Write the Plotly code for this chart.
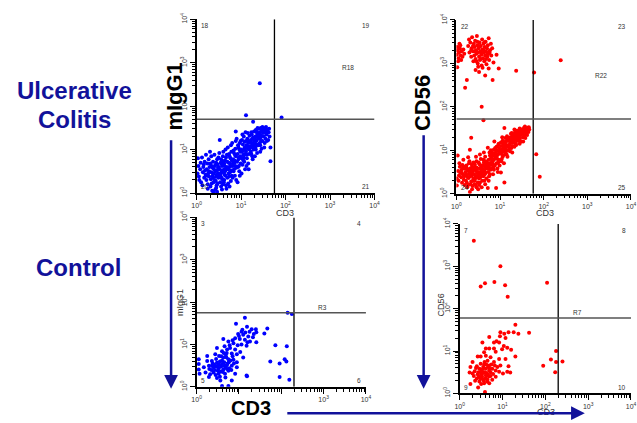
import numpy as np
import plotly.graph_objects as go

# ---------------- data (log10 units: decades of fluorescence) ----------------
uc_migg1 = [
    (0.02,0.45),(0.04,0.62),(0.06,0.30),(0.03,0.80),(0.08,0.55),(0.09,0.70),(0.05,0.38),(0.12,0.82),(0.10,0.25),
    (0.14,0.48),(0.15,0.60),(0.17,0.35),(0.18,0.72),(0.13,0.18),(0.19,0.52),(0.16,0.66),(0.20,0.42),
    (0.22,0.30),(0.23,0.55),(0.24,0.68),(0.25,0.20),(0.26,0.45),(0.27,0.78),(0.28,0.38),(0.29,0.60),(0.21,0.88),(0.25,0.10),(0.28,0.50),(0.23,0.40),
    (0.31,0.15),(0.32,0.32),(0.33,0.48),(0.34,0.62),(0.35,0.05),(0.36,0.40),(0.37,0.72),(0.38,0.25),(0.39,0.55),(0.30,0.95),(0.33,0.85),(0.36,0.58),(0.38,0.45),(0.31,0.68),(0.34,0.22),(0.37,0.36),(0.38,0.01),
    (0.41,0.30),(0.42,0.50),(0.43,0.65),(0.44,0.12),(0.45,0.42),(0.46,0.78),(0.47,0.22),(0.48,0.58),(0.49,0.35),(0.40,0.88),(0.42,0.08),(0.44,0.70),(0.46,0.52),(0.48,0.45),(0.41,0.62),(0.43,0.28),(0.45,0.18),(0.47,0.66),(0.49,0.82),(0.44,0.38),(0.46,0.03),
    (0.51,0.40),(0.52,0.55),(0.53,0.25),(0.54,0.70),(0.55,0.15),(0.56,0.48),(0.57,0.62),(0.58,0.32),(0.59,0.85),(0.50,0.60),(0.52,1.22),(0.53,0.45),(0.55,0.78),(0.56,0.35),(0.57,0.08),(0.58,0.52),(0.59,0.20),(0.51,0.92),(0.54,0.42),(0.56,0.68),(0.58,0.74),
    (0.61,0.48),(0.62,0.30),(0.63,0.62),(0.64,0.75),(0.65,0.40),(0.66,0.18),(0.67,0.55),(0.68,0.88),(0.69,0.35),(0.60,0.95),(0.62,0.68),(0.64,0.50),(0.66,0.82),(0.68,0.60),(0.61,0.25),(0.63,0.42),(0.65,1.00),(0.67,0.10),(0.69,0.72),(0.62,0.55),
    (0.71,0.55),(0.72,0.70),(0.73,0.38),(0.74,0.85),(0.75,0.48),(0.76,0.62),(0.77,0.28),(0.78,0.95),(0.79,0.75),(0.70,1.05),(0.72,0.45),(0.74,0.60),(0.76,0.80),(0.78,0.52),(0.71,0.22),(0.73,0.90),(0.75,0.68),(0.77,1.10),(0.79,0.40),(0.74,0.15),
    (0.81,0.62),(0.82,0.78),(0.83,0.50),(0.84,0.92),(0.85,0.70),(0.86,0.40),(0.87,1.02),(0.88,0.85),(0.89,0.58),(0.80,1.15),(0.82,0.68),(0.84,0.55),(0.86,0.88),(0.88,1.20),(0.81,0.35),(0.83,0.98),(0.85,0.75),(0.87,0.62),(0.88,1.42),(0.89,0.30),
    (0.91,0.72),(0.92,0.90),(0.93,0.60),(0.94,1.05),(0.95,0.82),(0.96,0.50),(0.97,1.15),(0.98,0.95),(0.99,0.68),(0.90,1.25),(0.92,0.25),(0.94,0.78),(0.96,1.00),(0.98,0.85),(0.93,1.10),(0.95,0.62),(0.97,0.40),(0.99,1.20),
    (1.01,0.80),(1.02,0.95),(1.03,0.65),(1.04,1.12),(1.05,0.88),(1.06,1.30),(1.07,0.72),(1.08,1.05),(1.09,0.55),(1.00,1.00),(1.02,1.22),(1.04,0.98),(1.06,0.82),(1.08,1.18),(1.01,0.45),(1.03,1.35),(1.05,0.75),(1.07,1.00),(1.09,0.90),
    (1.11,0.95),(1.12,1.10),(1.13,0.80),(1.14,1.25),(1.15,1.02),(1.16,0.68),(1.17,1.18),(1.18,0.90),(1.19,1.32),(1.10,1.40),(1.12,0.62),(1.14,1.05),(1.16,1.15),(1.18,1.00),(1.11,1.20),(1.13,0.88),(1.15,1.38),(1.17,0.55),(1.19,1.08),
    (1.21,1.05),(1.22,1.22),(1.23,0.90),(1.24,1.35),(1.25,1.12),(1.26,0.78),(1.27,1.28),(1.28,1.00),(1.29,1.42),(1.20,1.18),(1.22,0.95),(1.24,1.15),(1.26,1.25),(1.28,1.10),(1.23,1.40),(1.25,0.85),(1.27,1.05),(1.29,1.20),
    (1.31,1.15),(1.32,1.30),(1.33,1.00),(1.34,1.42),(1.35,1.22),(1.36,0.92),(1.37,1.35),(1.38,1.10),(1.39,1.48),(1.30,1.25),(1.32,1.05),(1.34,1.20),(1.36,1.38),(1.38,1.28),(1.31,0.85),(1.33,1.45),(1.35,1.12),(1.37,1.50),
    (1.41,1.25),(1.42,1.40),(1.43,1.10),(1.44,1.50),(1.45,1.32),(1.46,1.02),(1.47,1.45),(1.48,1.20),(1.49,1.38),(1.40,1.35),(1.42,1.15),(1.44,1.28),(1.46,1.42),(1.48,1.52),(1.43,0.95),(1.45,1.20),
    (1.51,1.30),(1.52,1.45),(1.53,1.15),(1.54,1.40),(1.55,1.25),(1.56,1.52),(1.57,1.35),(1.58,1.20),(1.59,1.45),(1.50,1.50),(1.52,1.05),(1.55,1.48),(1.58,1.38),
    (1.62,1.40),(1.64,1.30),(1.66,1.05),(1.66,0.73),(1.63,1.48),(1.61,1.22),
    (1.42,2.53),(1.11,1.79),(1.91,1.74),(1.27,1.64),
]

uc_cd56 = [
    # CD56+ NK population
    (0.01,3.20),(0.03,3.30),(0.05,3.12),(0.02,3.38),(0.06,3.25),(0.08,3.35),(0.10,3.18),(0.12,3.28),(0.04,3.05),(0.09,3.42),(0.14,3.15),(0.16,3.32),(0.02,2.91),(0.18,3.22),(0.11,3.08),(0.07,3.45),
    (0.27,3.40),(0.29,3.55),(0.30,3.25),(0.32,3.48),(0.34,3.15),(0.35,3.35),(0.36,3.60),(0.38,3.28),(0.39,3.05),(0.40,3.45),(0.41,3.18),(0.42,3.38),(0.43,3.52),(0.44,3.10),(0.45,3.30),(0.46,3.22),(0.47,3.63),(0.48,3.42),(0.49,3.00),(0.50,3.25),
    (0.51,3.35),(0.52,3.15),(0.53,3.48),(0.54,3.08),(0.55,3.28),(0.56,3.40),(0.57,3.20),(0.58,2.95),(0.59,3.55),(0.60,3.32),(0.61,3.12),(0.62,3.45),(0.63,3.25),(0.64,3.05),(0.65,3.38),(0.66,3.18),(0.67,3.50),(0.68,3.28),(0.69,2.98),(0.70,3.35),
    (0.71,3.15),(0.72,3.42),(0.73,3.22),(0.74,3.58),(0.75,3.08),(0.77,3.30),(0.79,3.45),(0.80,3.18),(0.82,3.35),(0.85,3.02),(0.44,2.85),(0.52,2.80),(0.60,2.90),(0.66,2.72),(0.48,3.50),(0.56,3.10),(0.62,3.30),(0.38,3.40),(0.46,3.05),(0.54,3.40),
    (0.70,3.20),(0.58,3.22),(0.50,2.92),(0.42,3.28),(0.64,3.48),(0.68,3.10),(0.34,3.30),(0.76,3.25),(0.92,3.20),(0.74,2.88),
    (0.97,2.88),(1.37,2.83),(1.78,2.79),(2.39,3.07),(0.83,2.62),(0.24,2.62),(0.20,2.44),(0.58,2.00),(0.62,1.69),
    # CD56- population
    (0.01,0.35),(0.01,0.19),(0.03,0.88),(0.04,0.52),(0.06,0.42),(0.08,0.62),(0.05,0.30),(0.09,0.48),(0.07,0.70),
    (0.11,0.38),(0.12,0.55),(0.13,0.25),(0.14,0.66),(0.15,0.45),(0.16,0.78),(0.17,0.32),(0.18,0.58),(0.19,0.20),(0.12,0.48),(0.15,0.60),(0.18,0.40),
    (0.21,0.50),(0.22,0.30),(0.23,0.65),(0.24,0.42),(0.25,0.15),(0.26,0.56),(0.27,0.84),(0.28,0.36),(0.29,0.70),(0.20,0.62),(0.22,0.45),(0.24,0.25),(0.26,0.38),(0.28,0.52),(0.23,0.58),(0.27,0.20),(0.29,0.46),
    (0.31,0.04),(0.31,1.01),(0.32,0.40),(0.33,0.55),(0.34,0.28),(0.35,0.68),(0.36,0.48),(0.37,0.18),(0.38,0.60),(0.39,0.35),(0.30,0.75),(0.32,0.22),(0.33,0.50),(0.35,0.42),(0.36,0.62),(0.38,0.30),(0.34,1.29),(0.37,0.52),(0.39,0.72),(0.31,0.58),(0.36,0.10),
    (0.41,0.45),(0.42,0.30),(0.43,0.62),(0.44,0.20),(0.45,0.52),(0.46,0.75),(0.47,0.38),(0.48,0.58),(0.49,0.26),(0.40,0.55),(0.42,0.68),(0.44,0.40),(0.46,0.15),(0.48,0.48),(0.43,0.35),(0.45,0.85),(0.47,0.60),(0.49,0.42),(0.41,0.22),(0.44,0.55),
    (0.50,0.10),(0.51,0.50),(0.52,0.35),(0.53,0.68),(0.54,0.25),(0.55,0.58),(0.56,0.80),(0.57,0.42),(0.58,0.62),(0.59,0.30),(0.51,0.72),(0.53,0.45),(0.55,0.38),(0.57,0.55),(0.59,0.48),(0.52,0.20),(0.54,0.90),(0.56,0.65),(0.58,0.15),(0.55,0.48),
    (0.61,0.55),(0.62,0.40),(0.63,0.72),(0.64,0.30),(0.65,0.62),(0.66,0.85),(0.67,0.48),(0.68,0.68),(0.69,0.35),(0.60,0.65),(0.62,0.78),(0.64,0.52),(0.66,0.22),(0.68,0.58),(0.63,0.95),(0.65,0.45),(0.67,0.75),(0.69,0.60),
    (0.71,0.62),(0.72,0.13),(0.72,1.06),(0.73,0.50),(0.74,0.78),(0.75,0.40),(0.76,0.70),(0.77,0.88),(0.78,0.55),(0.79,0.66),(0.70,0.72),(0.72,0.58),(0.74,0.30),(0.76,0.95),(0.78,0.80),(0.73,0.68),(0.75,0.60),(0.77,0.45),(0.79,1.00),
    (0.81,0.72),(0.82,0.58),(0.83,0.88),(0.84,0.45),(0.85,0.78),(0.86,1.02),(0.87,1.20),(0.88,0.65),(0.89,0.85),(0.80,0.82),(0.82,0.95),(0.84,0.68),(0.86,0.55),(0.88,0.92),(0.83,0.75),(0.85,0.62),(0.87,0.80),(0.89,1.05),
    (0.91,0.13),(0.91,0.85),(0.92,0.70),(0.93,1.00),(0.94,0.58),(0.95,0.90),(0.96,1.12),(0.97,0.78),(0.98,0.95),(0.99,0.65),(0.90,0.95),(0.92,1.08),(0.94,0.80),(0.96,0.72),(0.98,1.05),(0.93,0.88),(0.95,0.50),(0.97,1.15),
    (1.01,0.92),(1.02,0.49),(1.03,1.10),(1.04,0.80),(1.05,1.02),(1.06,1.22),(1.07,0.88),(1.08,1.05),(1.09,0.70),(1.00,1.00),(1.02,1.18),(1.04,0.95),(1.06,0.85),(1.08,1.15),(1.03,0.75),(1.05,1.30),(1.07,0.98),(1.09,1.10),(1.10,0.26),
    (1.10,1.51),(1.11,1.05),(1.12,0.92),(1.13,1.20),(1.14,0.98),(1.15,1.12),(1.16,1.32),(1.17,0.85),(1.18,1.08),(1.19,1.25),(1.11,1.15),(1.13,1.02),(1.15,0.90),(1.17,1.22),(1.19,1.00),(1.12,1.28),(1.16,1.10),
    (1.21,1.12),(1.22,1.28),(1.23,0.98),(1.24,1.20),(1.25,1.38),(1.26,1.05),(1.27,1.18),(1.28,1.32),(1.29,1.10),(1.20,1.22),(1.22,1.05),(1.24,1.30),(1.26,1.25),(1.28,0.95),(1.23,1.15),(1.27,1.40),(1.29,1.25),
    (1.31,1.20),(1.32,1.35),(1.33,1.08),(1.34,1.28),(1.35,1.42),(1.36,1.15),(1.37,1.30),(1.38,1.45),(1.39,1.22),(1.30,1.32),(1.32,1.18),(1.34,1.40),(1.36,1.25),(1.38,1.35),(1.33,1.48),(1.37,1.12),
    (1.41,1.30),(1.42,1.45),(1.43,1.22),(1.44,1.38),(1.45,1.50),(1.46,1.28),(1.47,1.42),(1.48,1.35),(1.49,1.20),(1.40,1.40),(1.42,1.32),(1.44,1.25),(1.46,1.45),(1.48,1.48),(1.45,1.15),
    (1.51,1.38),(1.52,1.48),(1.53,1.30),(1.54,1.42),(1.55,1.52),(1.56,1.35),(1.57,1.45),(1.58,1.28),(1.59,1.50),(1.60,1.40),(1.61,1.48),(1.62,1.35),(1.63,1.45),(1.64,1.52),(1.65,1.42),(1.66,1.53),(1.67,1.48),(1.53,1.20),(1.57,1.55),
    (1.83,0.91),(1.91,0.39),
]

ctrl_migg1 = [
    (1.14,1.63),(0.93,1.49),(1.19,1.42),(1.30,1.36),(1.40,1.36),(1.67,1.38),(1.60,1.26),(1.41,1.29),
    (1.06,1.30),(0.98,1.25),(1.10,1.23),(1.22,1.19),(1.33,1.17),(0.91,1.15),(1.02,1.13),(1.14,1.11),(1.26,1.07),(1.41,1.05),(0.87,1.03),(1.06,1.00),(1.18,0.97),
    (0.63,1.13),(0.75,1.07),(0.48,0.92),(0.66,0.96),(0.79,0.92),(0.91,0.88),(0.60,0.84),(0.71,0.80),(0.83,0.79),(0.95,0.77),(1.10,0.69),
    (0.44,0.77),(0.53,0.73),(0.63,0.69),(0.75,0.65),(0.87,0.64),(0.25,0.73),(0.25,0.61),(0.05,0.65),(0.05,0.54),(0.36,0.61),(0.48,0.57),(0.60,0.54),(0.71,0.51),(0.83,0.50),(0.95,0.46),
    (0.29,0.50),(0.40,0.46),(0.52,0.44),(0.63,0.41),(0.75,0.38),(0.17,0.46),(0.21,0.34),(0.40,0.34),(0.52,0.31),(0.67,0.31),(0.91,0.31),(1.18,0.27),(0.29,0.23),(0.48,0.21),(0.83,0.15),(0.56,0.15),(0.60,0.02),(0.75,0.02),(0.05,0.41),(0.07,0.31),
    (0.42,0.52),(0.46,0.66),(0.50,0.38),(0.55,0.60),(0.58,0.48),(0.62,0.35),(0.65,0.58),(0.68,0.45),(0.70,0.70),(0.73,0.55),(0.77,0.44),(0.80,0.62),(0.85,0.72),(0.88,0.55),(0.35,0.40),(0.38,0.55),(0.32,0.30),(0.45,0.28),(0.55,0.24),(0.68,0.22),
    (0.50,0.50),(0.57,0.36),(0.64,0.80),(0.72,0.88),(0.78,0.98),(0.85,1.10),(0.97,0.98),(1.00,1.20),(1.08,1.35),(1.15,1.28),(1.25,1.30),(1.35,1.25),(1.20,1.05),(0.95,0.58),(1.03,0.82),(0.43,0.40),(0.47,0.48),(0.53,0.52),(0.60,0.62),(0.66,0.50),
    (0.72,0.42),(0.76,0.58),(0.82,0.40),(0.36,0.50),(0.30,0.42),(0.58,0.72),(0.69,0.76),
    (1.86,0.98),(2.13,0.96),(1.74,0.60),(1.96,0.55),(2.08,0.65),(2.12,0.60),(1.96,0.23),(2.19,0.17),(2.15,1.75),(2.25,1.72),(1.19,0.25),
]

ctrl_cd56 = [
    (1.30,1.62),(0.95,1.44),(1.04,1.41),(1.14,1.44),(1.26,1.44),(1.37,1.41),(1.62,1.43),(0.94,1.35),(1.07,1.31),(0.69,1.33),(0.53,1.20),(0.86,1.23),(0.80,1.20),(0.92,1.20),(1.03,1.12),(1.11,1.08),(0.80,1.06),(0.61,1.06),(0.69,1.06),(0.99,1.04),
    (1.20,1.03),(0.84,0.98),(0.57,0.97),(0.42,0.87),(0.49,0.87),(0.61,0.89),(0.72,0.85),(0.92,0.81),(1.07,0.81),(1.30,0.87),(0.65,0.77),(0.80,0.74),(0.95,0.66),(1.14,0.64),(0.30,0.74),(0.49,0.70),(0.57,0.68),(0.69,0.66),(0.25,0.62),(0.38,0.60),
    (0.46,0.58),(0.53,0.57),(0.61,0.58),(0.69,0.54),(0.76,0.58),(0.84,0.54),(0.92,0.51),(1.01,0.47),(1.11,0.51),(1.18,0.49),(0.23,0.49),(0.30,0.47),(0.42,0.45),(0.51,0.45),(0.61,0.43),(0.72,0.41),(0.84,0.39),(0.33,0.41),(0.40,0.35),(0.53,0.34),
    (0.65,0.32),(0.76,0.32),(0.57,0.24),(0.69,0.24),(0.46,0.28),(0.25,0.22),(0.43,0.14),(0.59,0.03),
    (0.50,0.52),(0.55,0.62),(0.58,0.50),(0.63,0.48),(0.66,0.62),(0.72,0.50),(0.74,0.68),(0.78,0.46),(0.45,0.40),(0.48,0.36),(0.52,0.40),(0.56,0.30),(0.60,0.36),(0.64,0.28),(0.68,0.40),(0.35,0.52),(0.40,0.64),(0.44,0.50),(0.54,0.48),(0.62,0.68),
    (0.70,0.58),(0.58,0.74),(0.66,0.44),(0.36,0.30),(0.50,0.22),(0.88,0.62),(0.82,0.66),
    (0.33,3.60),(0.95,3.00),(0.49,2.52),(0.59,2.60),(0.81,2.63),(1.06,2.55),(1.12,2.28),(2.04,2.61),
    (1.95,0.65),(2.13,0.80),(2.25,1.00),(2.25,0.74),(2.40,0.75),(2.23,0.50),
]

# quadrant gate positions (log10 units)
uc_migg1_gate = (1.75, 1.70)
uc_cd56_gate = (1.76, 1.72)
ctrl_migg1_gate = (2.30, 1.75)
ctrl_cd56_gate = (2.30, 1.78)

decades = [0, 1, 2, 3, 4]
quadrant_labels = [("18", "19", "20", "21"), ("22", "23", "24", "25"), ("3", "4", "5", "6"), ("7", "8", "9", "10")]
region_labels = ["R18", "R22", "R3", "R7"]

# ---------------- layout helpers ----------------
W, H = 637, 423
def px(x):
    return x / W
def py(y):
    return 1 - y / H

BLUE = "#0000ff"
RED = "#ff0000"
NAVY = "#12129a"

# panel pixel boxes: (left, right, top, bottom)
panels = [
    dict(data=uc_migg1, gate=uc_migg1_gate, color=BLUE, box=(195, 376, 12.7, 191.0), rlab=(0.85, 0.72)),
    dict(data=uc_cd56, gate=uc_cd56_gate, color=RED, box=(459.3, 637.0, 13.3, 191.7), rlab=(0.826, 0.68)),
    dict(data=ctrl_migg1, gate=ctrl_migg1_gate, color=BLUE, box=(195, 367.3, 216.0, 390.0), rlab=(0.743, 0.466)),
    dict(data=ctrl_cd56, gate=ctrl_cd56_gate, color=RED, box=(462.7, 637.0, 222.7, 396.7), rlab=(0.688, 0.48)),
]

fig = go.Figure()
layout = dict(width=W, height=H, autosize=False, margin=dict(l=0, r=0, t=0, b=0),
              paper_bgcolor="white", plot_bgcolor="white", showlegend=False,
              font=dict(family="Liberation Sans, Arial", color="#222"))
annotations = []

major_vals = [10 ** d for d in decades]
minor_vals = [k * 10 ** d for d in decades[:-1] for k in range(2, 10)]

for i, p in enumerate(panels, start=1):
    sfx = "" if i == 1 else str(i)
    xa, ya = "x" + sfx, "y" + sfx
    lx = np.array([q[0] for q in p["data"]])
    ly = np.array([q[1] for q in p["data"]])
    fig.add_trace(go.Scatter(x=10 ** lx, y=10 ** ly, mode="markers", xaxis=xa, yaxis=ya,
                             marker=dict(size=4, color=p["color"], line=dict(width=0)), hoverinfo="skip"))
    gx, gy = p["gate"]
    fig.add_trace(go.Scatter(x=[10 ** gx, 10 ** gx], y=[10 ** decades[0], 10 ** decades[-1]], mode="lines",
                             xaxis=xa, yaxis=ya, line=dict(color="black", width=1.3), hoverinfo="skip"))
    fig.add_trace(go.Scatter(x=[10 ** decades[0], 10 ** decades[-1]], y=[10 ** gy, 10 ** gy], mode="lines",
                             xaxis=xa, yaxis=ya, line=dict(color="#555555", width=1.5), hoverinfo="skip"))
    l, r, t, b = p["box"]
    if i == 3:
        xt = ["10<sup>0</sup>", "", "", "10<sup>3</sup>", "10<sup>4</sup>"]
    else:
        xt = [f"10<sup>{d}</sup>" for d in decades]
    yt = [f"10<sup>{d}</sup>" for d in decades]
    common = dict(type="log", range=[decades[0], decades[-1]], showline=True, linecolor="black", linewidth=1.5,
                  ticks="outside", ticklen=5, tickwidth=1, tickcolor="black", showgrid=False, zeroline=False,
                  tickmode="array", tickvals=major_vals, tickfont=dict(size=7, color="#333"),
                  minor=dict(ticks="outside", ticklen=3, tickwidth=1, tickcolor="black", tickmode="array",
                             tickvals=minor_vals, showgrid=False),
                  fixedrange=True)
    layout["xaxis" + sfx] = dict(common, domain=[px(l), min(px(r), 1.0)], anchor=ya, ticktext=xt)
    layout["yaxis" + sfx] = dict(common, domain=[py(b), py(t)], anchor=xa, ticktext=yt, tickangle=-90)
    ql = quadrant_labels[i - 1]
    for txt, qx, qy, xan, yan in [(ql[0], 0.015, 0.995, "left", "top"), (ql[1], 0.985, 0.995, "right", "top"),
                                  (ql[2], 0.015, 0.005, "left", "bottom"), (ql[3], 0.985, 0.005, "right", "bottom")]:
        annotations.append(dict(text=txt, xref=f"{xa} domain", yref=f"{ya} domain", x=qx, y=qy,
                                xanchor=xan, yanchor=yan, showarrow=False, font=dict(size=6.5, color="#333")))
    annotations.append(dict(text=region_labels[i - 1], xref=f"{xa} domain", yref=f"{ya} domain",
                            x=p["rlab"][0], y=p["rlab"][1], xanchor="center", yanchor="middle",
                            showarrow=False, font=dict(size=6.5, color="#333")))

# small axis titles
for txt, x, y, ang in [("CD3", 285, 212, 0), ("CD3", 549, 212, 0), ("CD3", 551, 416, 0),
                       ("mIgG1", 178, 303, -90), ("CD56", 444, 306, -90)]:
    annotations.append(dict(text=txt, xref="paper", yref="paper", x=px(x), y=py(y), showarrow=False,
                            xanchor="center", yanchor="middle",
                            textangle=ang, font=dict(size=9, color="#333")))

# big labels
big = [("<b>Ulcerative</b>", 71, 86, 0, 24, NAVY), ("<b>Colitis</b>", 71, 115, 0, 24, NAVY),
       ("<b>Control</b>", 75, 267, 0, 24, NAVY), ("<b>mIgG1</b>", 173, 92, -90, 22, "black"),
       ("<b>CD56</b>", 425, 99, -90, 22, "black"), ("<b>CD3</b>", 250, 412, 0, 20, "black")]
for txt, x, y, ang, sz, col in big:
    annotations.append(dict(text=txt, x=px(x), y=py(y), xref="paper", yref="paper", showarrow=False,
                            xanchor="center", yanchor="middle", textangle=ang,
                            font=dict(size=sz, color=col, family="Liberation Sans, Arial")))

# arrows
for hx, hy, axp, ayp in [(169, 392, 0, -250), (426, 392, 0, -255), (590, 417, -299, 0)]:
    annotations.append(dict(text="", x=px(hx), y=py(hy), xref="paper", yref="paper", ax=axp, ay=ayp,
                            axref="pixel", ayref="pixel", showarrow=True, arrowhead=2, arrowsize=1.1,
                            arrowwidth=2.5, arrowcolor=NAVY, standoff=0))

layout["annotations"] = annotations
fig.update_layout(**layout)
fig.write_html("out.html")
